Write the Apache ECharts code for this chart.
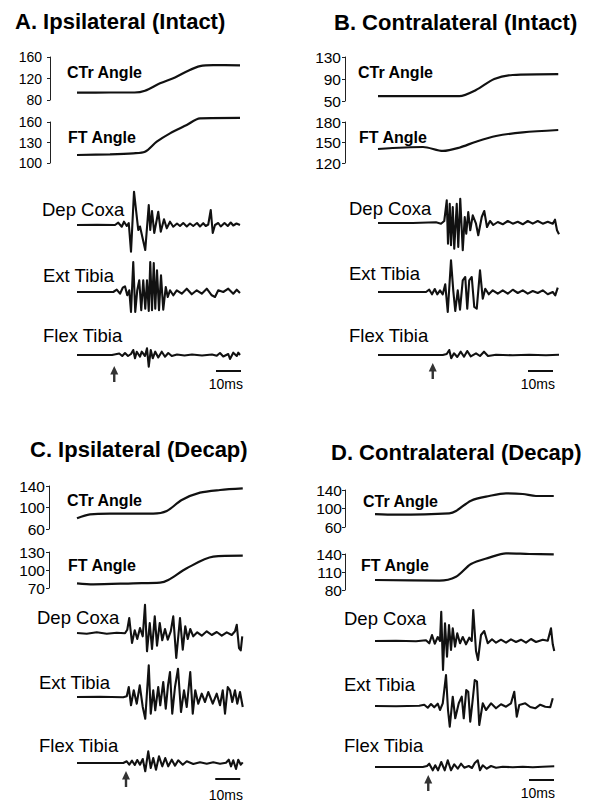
<!DOCTYPE html>
<html>
<head>
<meta charset="utf-8">
<script src="https://cdn.jsdelivr.net/npm/echarts@6/dist/echarts.min.js"></script>
<style>
  html, body { margin: 0; background: #fff; }
  #fig { width: 592px; height: 804px; }
</style>
</head>
<body>
<div id="fig"></div>
<script>
// names
const panelTitles = ['A. Ipsilateral (Intact)', 'B. Contralateral (Intact)', 'C. Ipsilateral (Decap)', 'D. Contralateral (Decap)'];
const angleNames = ['CTr Angle', 'FT Angle'];
const emgNames = ['Dep Coxa', 'Ext Tibia', 'Flex Tibia'];

// angle axis tick labels (deg)
const ctrTicksA = [80, 120, 160], ftTicksA = [100, 130, 160];
const ctrTicksB = [50, 90, 130], ftTicksB = [120, 150, 180];
const ctrTicksC = [60, 100, 140], ftTicksC = [70, 100, 130];
const ctrTicksD = [60, 100, 140], ftTicksD = [80, 110, 140];

// stimulus (arrow) time and sweep length, ms
const stimMs = [14.9, 21.9, 19.6, 21.3];
const sweepMs = [65.2, 72.4, 66.4, 71.6];

// joint angles [ms, deg]
const ctrA = [[0,93.6],[13.2,94],[23,94],[27.2,97.3],[33.2,111],[39.2,122],[44.5,134.6],[49.2,143],[54.5,145],[65.2,144.5]];
const ftA = [[0,111.7],[13.2,112.7],[22.5,114.2],[27.2,116.5],[31.9,131.2],[37.2,143.4],[43.9,155.6],[49.2,165.4],[65.2,165.9]];
const ctrB = [[0,59],[32.5,59],[39.2,70],[46.5,90],[53.9,97.3],[72.1,99]];
const ftB = [[0,140.5],[18,143.4],[26,137.6],[32.5,142.4],[39.2,151.2],[47.2,159.5],[57.9,164.9],[72.1,168.3]];
const ctrC = [[0,79.9],[5.2,87.3],[13.2,88.5],[30.5,88.5],[35.9,93.5],[41.9,114],[49.2,127.6],[57.2,132.6],[66.3,135.6]];
const ftC = [[0,77.8],[6.5,76.1],[22.5,77.8],[33.2,78.9],[36.5,83.3],[43.9,102.8],[54.5,122.2],[66.3,123.9]];
const ctrD = [[0,88],[8.4,86.6],[29.7,89.6],[32.4,94.6],[38.4,116.9],[45.7,127],[52.4,132.8],[59.1,131.4],[64.4,127],[71.5,127]];
const ftD = [[0,96.7],[25.7,95.6],[32.4,102.2],[38.4,123.3],[45.7,133.9],[52.4,141.1],[61.7,140],[71.5,139.4]];

// EMG [ms, amplitude a.u.]
const depA = [[0,0],[8,0.3],[15.2,0],[16.5,2.3],[17.9,-1.7],[18.8,3.3],[19.9,-1],[20.7,2],[21.6,-26.7],[22.8,33.3],[24.5,-5],[25.2,-1.5],[27.3,-25],[28.7,20],[29.3,-5],[30,14],[30.9,-8],[32.5,13.3],[33.5,-6.7],[34.8,5.7],[35.9,-3.3],[37.2,3.3],[38.5,-1.7],[40,1.5],[41.2,-1],[42.5,2],[43.9,-1.5],[45.2,1.5],[46.5,-1],[48,2],[49.2,-1.5],[50.5,1.8],[51.5,-1],[52.5,0.5],[53.5,15],[54.3,-8],[55.2,0],[56.5,2],[57.5,-1.5],[59,2],[60.3,-1],[61.5,2.5],[62.5,-0.5],[63.8,1.5],[65.2,0]];
const extA = [[0,0],[14.5,0],[15.9,2.3],[17.2,-1.7],[18.3,4.3],[19.2,5.7],[20.1,-3.3],[20.9,1.7],[21.6,-20],[22.5,30],[23.3,-20],[24.1,1.7],[24.9,11.7],[25.7,-18.3],[26.5,11.7],[27.3,-16.7],[28,11.7],[28.7,-19],[29.3,30],[30,-18.3],[30.7,29],[31.3,-16.7],[32,21.7],[32.8,-18.3],[33.6,16.7],[34.5,-17.7],[35.5,5],[36.3,-5],[37.2,1.7],[38.5,-3.3],[39.9,1.7],[41.9,-1.7],[43.9,3.3],[45.9,-2.3],[47.9,1.7],[49.9,-1.7],[51.9,3.3],[53.9,-3.3],[55.2,-5],[56.5,1.7],[58.5,0],[60.5,3.3],[62.5,-1.7],[63.9,2.3],[65.2,-1]];
const flexA = [[0,0],[14,0],[16.9,1.5],[18.1,-1],[19.2,2],[20.4,-1],[21.6,1],[22.5,5],[23.2,-3.3],[23.9,3.3],[25.2,-1.7],[25.9,3.3],[27.2,-1],[28,6.7],[28.7,-11.7],[29.5,5],[30.3,-3.3],[31.3,3.3],[32.5,-2.5],[33.9,3.3],[35.2,-1.7],[36.5,2],[37.9,-1],[40,0.5],[43,-0.5],[46,0.5],[50,-0.5],[54,0.5],[55.9,-0.8],[57.2,2],[58.5,-1.5],[60.5,1],[61.2,-4],[62.5,2.3],[63.9,-1],[64.5,2.3],[65.2,0]];

const depB = [[0,0],[13.9,0],[23.2,0.7],[25.2,-0.7],[26.5,2],[27.5,22.7],[28,-20.7],[28.7,19.3],[29.2,-22.3],[29.9,16],[30.5,-25.7],[31.5,19.3],[32.1,-24],[32.9,24.3],[33.9,-27.3],[34.7,6],[35.3,-10.7],[36.1,11],[36.9,-7.3],[37.9,7.7],[39.2,-0.7],[40.1,-12.3],[41.5,6],[42.5,12],[43.6,-4],[44.8,2],[46.1,-2],[47.9,1],[49.9,-1.3],[51.9,2],[53.9,-0.7],[55.9,1.3],[57.9,-1.3],[59.9,2],[61.9,-0.7],[63.9,2],[65.9,-0.7],[67.9,1.3],[69.9,-0.7],[70.8,3.3],[71.6,-7.3],[72.4,-11.3]];
const extB = [[0,0],[19.2,0],[20.5,2.3],[21.6,-2.3],[22.7,3],[23.7,-2.3],[24.8,1.7],[25.9,-2.3],[26.9,7.7],[27.9,-20],[29.2,31.7],[30.1,1.7],[30.9,-19],[31.9,1.7],[32.8,-17.7],[33.9,11.7],[34.9,15],[35.7,-16.7],[36.5,11.7],[37.5,15],[38.5,-15],[39.5,-16.7],[40.8,21.7],[41.9,-6.7],[42.9,3.3],[44.3,-2.3],[45.9,1.7],[47.9,-1.7],[49.9,1.7],[51.9,-1.7],[53.9,2.3],[55.9,-1],[57.9,1.7],[59.9,-1.7],[61.9,1],[63.9,-1],[65.9,1.7],[67.9,-2.3],[69.9,0],[70.9,-3.3],[71.9,4.3]];
const flexB = [[0,0],[25.9,0],[27.5,1],[28.5,5],[29.3,-3.3],[30.4,1.7],[31.7,-2],[33.1,3.3],[34.4,-1.7],[35.7,4],[37.1,-1.3],[39.2,1.7],[40.8,-1],[42.4,3.3],[44,-1],[47.2,0.3],[53.9,-0.3],[60.5,0.3],[67.2,-0.3],[72.4,0.3]];

const depC = [[0,0],[3.9,-0.7],[7.9,0.7],[11.9,-0.7],[15.9,0.3],[19.2,-0.3],[20.1,3.3],[20.9,15],[22,-10],[23.1,2.7],[24.1,-6],[25.2,5],[26.3,-3.3],[27.2,28.3],[28,-18.3],[29.1,10],[30,-16],[31.1,16.7],[32,-12.7],[33.1,10],[34.1,-7.3],[35.2,4],[36.3,-6.7],[37.5,1.7],[38.5,16.7],[39.7,-25],[41.2,15],[42.3,-16.7],[43.3,6.7],[44.3,-6],[45.3,4],[46.5,-3.3],[48.1,0.7],[49.9,-2.7],[51.9,1.7],[53.9,-2],[55.9,1],[57.9,-2.7],[59.9,0.7],[61.9,-2],[63.2,1.7],[63.9,8.3],[64.8,-15],[65.5,-17.3],[66.1,-3.3]];
const extC = [[0,0],[9.2,0.3],[18.5,-0.3],[19.9,0.7],[20.7,10],[21.6,-8.3],[22.7,6.7],[23.9,-6.7],[25.1,11.7],[26.3,-10],[27.3,-21.7],[28.7,31.7],[29.5,-16.7],[30.5,6.7],[31.3,-13.3],[32.5,10],[33.3,-8.3],[34.5,15],[35.5,-11.7],[36.4,11.7],[37.2,25],[38.1,-16.7],[39.2,10],[40.4,28.3],[41.6,-15],[42.8,6.7],[43.9,-10],[45.3,25],[46.3,-16.7],[47.3,6.7],[48.5,-6.7],[49.9,3.3],[51.2,-5],[52.5,5],[54.3,-6.7],[55.9,3.3],[57.2,-8.3],[58.3,6.7],[59.2,-16.7],[60.3,10],[61.2,6.7],[62.1,-5],[63.2,6.7],[64.1,-6.7],[65.2,5],[66.3,-10]];
const flexC = [[0,0],[18.5,0],[19.9,1.7],[20.9,-1.7],[22,2.3],[23.1,-2],[24.1,3],[25.2,-1.7],[26.3,4],[27.3,-8.3],[28.5,11.7],[29.5,-5],[30.5,5],[31.6,-6.7],[32.8,6.7],[34.1,-3.3],[35.3,5],[36.5,-3.3],[37.9,3.3],[39.2,-2.7],[40.5,2.7],[42.3,-1.7],[43.9,1.7],[46.5,-1],[49.2,0.7],[51.9,-0.7],[54.5,0.7],[57.2,-0.7],[59.6,0.3],[60.7,3.3],[61.6,-3.3],[62.5,2.7],[63.6,-6],[64.5,3.3],[65.5,-1.7],[66.3,0.7]];

const depD = [[0,0],[8.4,0.3],[16.4,-0.3],[20.4,0.7],[21.7,-2.3],[22.8,6],[23.9,-2.7],[25.1,4],[26,0],[26.5,29.3],[27.2,-29],[28,17.7],[28.8,-15.7],[29.6,16],[30.4,-9],[31.1,12.7],[32,-5.7],[32.9,7.7],[34,-2.3],[35.1,4],[36.4,-3.3],[37.7,3.3],[38.7,0],[39.3,31],[40.4,-10],[41.2,-19],[42.4,6],[43.7,10],[45.1,-2.3],[46.8,1.7],[48.4,-1.7],[50.4,1.3],[52.4,-1.7],[54.4,1.7],[56.4,-1],[58.4,1.3],[60.4,-1.7],[62.4,2],[64.4,-1],[67.1,1.3],[69.1,0.3],[70.4,12.7],[71.1,-3.3],[71.7,-10]];
const extD = [[0,0],[8.4,-0.3],[17.7,0.3],[19.7,1.3],[21.1,-1.7],[22.4,2],[23.7,-1.3],[25.1,2.3],[26,-4],[27.1,2.7],[28.4,31],[29.2,-4],[29.9,-20.7],[31.1,9.3],[32.1,-12.3],[33.5,2.7],[34.7,9.3],[35.5,-12.3],[36.5,16],[37.3,14.3],[38.1,-15.7],[38.9,2],[39.9,26],[40.8,24.3],[41.7,-19],[43.1,2.7],[44.4,-4],[46.4,2.7],[48.4,-2.3],[50.4,1.7],[52.4,-0.7],[54.4,2.7],[55.7,14.3],[56.7,-10.7],[57.7,1],[60.1,2.7],[62.1,-1],[64.1,-2.3],[66.1,1.3],[68.1,-0.7],[70.1,-1.3],[71.1,7.7]];
const flexD = [[0,0],[19.1,0],[20.8,1],[21.7,3.3],[23.1,-3.3],[24.1,1.7],[25.2,-3.3],[26.5,5],[27.9,-3.3],[29.1,6.7],[30.4,-3.3],[31.7,2.7],[33.1,-1.7],[34.4,3.3],[35.7,-0.7],[37.5,1],[38.8,-1],[39.9,4],[41.1,6.7],[42,-3.3],[43.1,1.7],[44.7,-1.7],[46.4,1],[48.4,-0.7],[51.1,0.3],[55.1,-0.3],[59.1,0.3],[63.1,-0.3],[67.1,0.3],[71.7,0.7]];

const panelData = [
  { ctr: ctrA, ft: ftA, emg: [depA, extA, flexA], ctrTicks: ctrTicksA, ftTicks: ftTicksA },
  { ctr: ctrB, ft: ftB, emg: [depB, extB, flexB], ctrTicks: ctrTicksB, ftTicks: ftTicksB },
  { ctr: ctrC, ft: ftC, emg: [depC, extC, flexC], ctrTicks: ctrTicksC, ftTicks: ftTicksC },
  { ctr: ctrD, ft: ftD, emg: [depD, extD, flexD], ctrTicks: ctrTicksD, ftTicks: ftTicksD },
];

// page layout, px
const layout = [
  { left: 77, width: 163, axisX: 50, tickFont: 14, labelGap: 8, ctr: [57, 100], ft: [122, 163], emgBase: [225, 292, 355],
    title: [15, 21], angLab: [[67, 72], [68, 137]], emgLab: [[42, 209], [43, 275], [43, 335]],
    barStart: 55.6, barY: -16, arrowY: -19, barText: [243, 384] },
  { left: 378, width: 181, axisX: 345, tickFont: 15.5, labelGap: 4, ctr: [57, 101], ft: [122, 163], emgBase: [223, 292, 355],
    title: [334, 22], angLab: [[358, 72], [359, 137]], emgLab: [[349, 208], [349, 273], [349, 335]],
    barStart: 60, barY: -16, arrowY: -16, barText: [555, 384] },
  { left: 77, width: 166, axisX: 49, tickFont: 15.5, labelGap: 4, ctr: [486, 529], ft: [552, 588], emgBase: [633, 697, 763],
    title: [30, 449], angLab: [[67, 500], [68, 565]], emgLab: [[37, 617], [39, 682], [39, 745]],
    barStart: 55.3, barY: -16, arrowY: -16, barText: [243, 795] },
  { left: 375, width: 179, axisX: 345, tickFont: 15.5, labelGap: 3, ctr: [490, 527], ft: [554, 590], emgBase: [641, 706, 767],
    title: [331, 452], angLab: [[363, 501], [361, 565]], emgLab: [[344, 618], [344, 684], [344, 745]],
    barStart: 61.6, barY: -13, arrowY: -16, barText: [555, 793] },
];

const FONT = '"Liberation Sans", Arial, sans-serif';
const INK = '#111';
const grids = [], xAxes = [], yAxes = [], series = [], texts = [];

function addText(x, y, s, size, bold, align) {
  texts.push({
    type: 'text', x: x, y: y, silent: true,
    style: { text: s, fill: '#000', fontSize: size, fontWeight: bold ? 'bold' : 'normal', fontFamily: FONT,
      align: align || 'left', verticalAlign: 'middle' },
  });
}

function addGrid(L, top, height, xMax, yAxisOpt) {
  const i = grids.length;
  grids.push({ left: L.left, top: top, width: L.width, height: height, outerBoundsMode: 'none' });
  xAxes.push({ type: 'value', gridIndex: i, min: 0, max: xMax, show: false });
  yAxes.push(Object.assign({ type: 'value', gridIndex: i, splitLine: { show: false } }, yAxisOpt));
  return i;
}

function angleAxis(L, ticks) {
  return {
    min: ticks[0], max: ticks[ticks.length - 1],
    offset: L.left - L.axisX,
    axisLine: { show: true, onZero: false, lineStyle: { color: '#222', width: 1 } },
    axisTick: { show: true, length: 3, customValues: ticks, lineStyle: { color: '#222', width: 1 } },
    axisLabel: { customValues: ticks, margin: L.labelGap, fontSize: L.tickFont, fontFamily: FONT, color: '#000' },
  };
}

panelData.forEach((P, p) => {
  const L = layout[p];
  const xMax = sweepMs[p];

  // joint angle traces
  [[P.ctr, P.ctrTicks, L.ctr], [P.ft, P.ftTicks, L.ft]].forEach(([data, ticks, rng]) => {
    const g = addGrid(L, rng[0], rng[1] - rng[0], xMax, angleAxis(L, ticks));
    series.push({ type: 'line', xAxisIndex: g, yAxisIndex: g, data: data, symbol: 'none', smooth: 0.3, clip: false,
      silent: true, lineStyle: { color: INK, width: 2.2 } });
  });

  // EMG traces
  let flexGrid = 0;
  P.emg.forEach((data, k) => {
    const base = L.emgBase[k];
    const g = addGrid(L, base - 35, 70, xMax, { min: -35, max: 35, show: false });
    series.push({ type: 'line', xAxisIndex: g, yAxisIndex: g, data: data, symbol: 'none', clip: false,
      silent: true, lineStyle: { color: INK, width: 2.1, join: 'round' } });
    flexGrid = g;
  });

  // 10 ms scale bar and stimulus arrow, in the bottom trace's coordinates
  series.push({ type: 'line', xAxisIndex: flexGrid, yAxisIndex: flexGrid, symbol: 'none', clip: false, silent: true,
    data: [[L.barStart, L.barY], [L.barStart + 10, L.barY]], lineStyle: { color: INK, width: 2 } });
  series.push({ type: 'scatter', xAxisIndex: flexGrid, yAxisIndex: flexGrid, clip: false, silent: true,
    data: [[stimMs[p], L.arrowY]],
    symbol: 'path://M4,0 L8,9 L5.2,9 L5.2,17 L2.8,17 L2.8,9 L0,9 Z', symbolSize: [8, 16],
    itemStyle: { color: '#000' } });

  addText(L.title[0], L.title[1], panelTitles[p], 22, true);
  angleNames.forEach((n, k) => addText(L.angLab[k][0], L.angLab[k][1], n, 16, true));
  emgNames.forEach((n, k) => addText(L.emgLab[k][0], L.emgLab[k][1], n, 18.5, false));
  addText(L.barText[0], L.barText[1], '10ms', 14, false, 'right');
});

const chart = echarts.init(document.getElementById('fig'), null, { renderer: 'svg' });
chart.setOption({
  animation: false,
  backgroundColor: '#fff',
  grid: grids,
  xAxis: xAxes,
  yAxis: yAxes,
  series: series,
  graphic: texts,
});
window.addEventListener('resize', () => chart.resize());
</script>
</body>
</html>
